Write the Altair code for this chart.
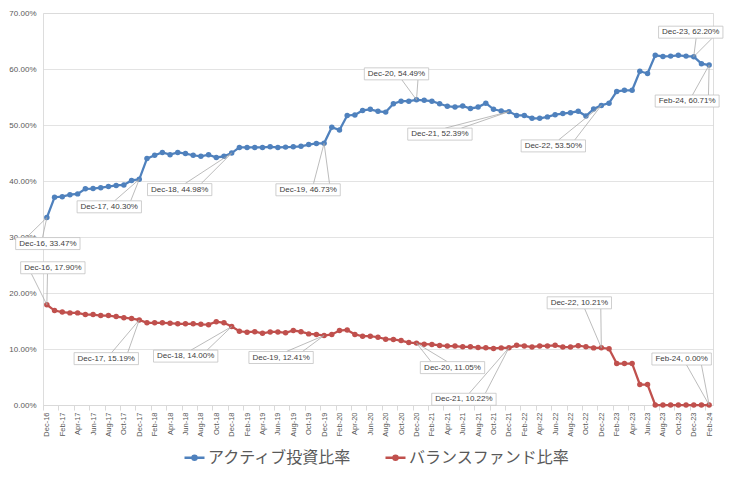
import json
import altair as alt
import pandas as pd

# ---------------- data ----------------
months = pd.date_range("2016-12-01", "2024-02-01", freq="MS").strftime("%b-%y").tolist()
series_names = ["アクティブ投資比率", "バランスファンド比率"]
series_colors = ["#4F81BD", "#C0504D"]

active = [
    33.47, 37.1, 37.2, 37.55, 37.7, 38.6, 38.65, 38.8, 39.0, 39.2, 39.3, 40.1, 40.30,
    44.0, 44.6, 45.1, 44.7, 45.1, 44.9, 44.6, 44.4, 44.7, 44.2, 44.4, 44.98,
    46.0, 46.0, 46.0, 46.0, 46.1, 46.0, 46.05, 46.1, 46.2, 46.5, 46.7, 46.73,
    49.6, 49.1, 51.7, 51.8, 52.6, 52.8, 52.45, 52.3, 53.8, 54.25, 54.25, 54.49,
    54.4, 54.25, 53.8, 53.35, 53.2, 53.4, 52.95, 53.2, 53.9, 52.8, 52.5, 52.39,
    51.7, 51.7, 51.2, 51.2, 51.45, 51.85, 52.05, 52.2, 52.45, 51.6, 52.85, 53.50,
    53.9, 56.0, 56.2, 56.2, 59.6, 59.2, 62.45, 62.25, 62.3, 62.45, 62.3, 62.20,
    60.95, 60.71,
]
balance = [
    17.90, 16.87, 16.6, 16.45, 16.45, 16.15, 16.15, 15.97, 15.97, 15.8, 15.6, 15.44, 15.19,
    14.67, 14.67, 14.67, 14.6, 14.5, 14.5, 14.5, 14.4, 14.35, 14.88, 14.67, 14.00,
    13.17, 13.0, 13.1, 12.8, 13.05, 13.05, 12.9, 13.3, 13.1, 12.7, 12.6, 12.41,
    12.6, 13.3, 13.4, 12.6, 12.28, 12.28, 12.1, 11.75, 11.7, 11.5, 11.15, 11.05,
    10.85, 10.82, 10.64, 10.52, 10.52, 10.4, 10.4, 10.25, 10.22, 10.1, 10.2, 10.22,
    10.65, 10.55, 10.35, 10.55, 10.55, 10.65, 10.35, 10.35, 10.6, 10.4, 10.2, 10.21,
    10.05, 7.4, 7.4, 7.4, 3.66, 3.66, 0, 0, 0, 0, 0, 0,
    0, 0,
]
y_ticks = [0, 0.1, 0.2, 0.3, 0.4, 0.5, 0.6, 0.7]

# labelled points: (series index, month) and callout box offset (style, pixels)
callouts = [
    (0, "Dec-16", 1, 26), (0, "Dec-17", -30, 27.5), (0, "Dec-18", -52, 36.5),
    (0, "Dec-19", -16, 46.5), (0, "Dec-20", -20, -26), (0, "Dec-21", -69, 22.5),
    (0, "Dec-22", -48, 40.5), (0, "Dec-23", -3, -24.5), (0, "Feb-24", -22, 36),
    (1, "Dec-16", 6, -37), (1, "Dec-17", -33, 38.7), (1, "Dec-18", -46, 29.5),
    (1, "Dec-19", -43, 22), (1, "Dec-20", 36, 24.5), (1, "Dec-21", -45, 51.5),
    (1, "Dec-22", -22, -45), (1, "Feb-24", -27.5, -46),
]

# ---------------- layout / style ----------------
W, H = 670, 392
n = len(months)
band_half = W / n / 2
GRAY = "#595959"
FONT = "Liberation Sans"
BOX_H = 12

CW = {"D": .722, "e": .556, "c": .5, "F": .611, "b": .556, "-": .333, ",": .278,
      " ": .278, ".": .278, "%": .889}


def text_w(s, size=8):
    return sum(CW.get(ch, .556) for ch in s) * size


values_by_series = [active, balance]
df = pd.DataFrame({
    "idx": list(range(n)) * 2,
    "month": months * 2,
    "series": [series_names[0]] * n + [series_names[1]] * n,
    "v": [a / 100 for a in active] + [b / 100 for b in balance],
})

x_enc = alt.X(
    "idx:Q",
    scale=alt.Scale(domain=[-0.5, n - 0.5], nice=False, zero=False),
    axis=alt.Axis(
        values=list(range(0, n, 2)),
        labelExpr=json.dumps(months) + "[datum.value]",
        labelAngle=-90, labelFontSize=7.5, labelColor=GRAY, labelFont=FONT,
        labelFlush=False, labelOverlap=False, labelPadding=2,
        tickSize=5, tickColor="#d9d9d9", tickOffset=-band_half, labelOffset=band_half,
        domainColor="#d9d9d9", grid=False, title=None,
    ),
)
y_enc = alt.Y(
    "v:Q",
    scale=alt.Scale(domain=[0, 0.7], nice=False),
    axis=alt.Axis(
        values=y_ticks, format=".2%", labelFontSize=8, labelColor=GRAY, labelFont=FONT,
        ticks=False, domain=False, gridColor="#d9d9d9", gridWidth=0.75,
        labelPadding=7, title=None,
    ),
)

legend_symbol = "M-0.2,0A0.2,0.2,0,1,1,0.2,0A0.2,0.2,0,1,1,-0.2,0Z M-1,0L1,0"
color_enc = alt.Color(
    "series:N",
    scale=alt.Scale(domain=series_names, range=series_colors),
    legend=alt.Legend(
        orient="none", legendX=140, legendY=433, direction="horizontal", title=None,
        labelFontSize=16, labelFont="Noto Sans CJK JP", labelColor=GRAY, labelLimit=400,
        symbolType=legend_symbol, symbolSize=400, symbolStrokeWidth=2.5,
        columnPadding=27, labelOffset=2, padding=0,
    ),
)

lines = alt.Chart(df).mark_line(strokeWidth=2.25).encode(x=x_enc, y=y_enc, color=color_enc)
layers = [lines]
for s, c in zip(series_names, series_colors):
    layers.append(
        alt.Chart(df).transform_filter(alt.datum.series == s)
        .mark_point(filled=True, size=30, color=c, opacity=1)
        .encode(x=x_enc, y=y_enc)
    )

# callouts
ann_rows = []
for k, (si, m, dx, dy) in enumerate(callouts):
    i = months.index(m)
    val = values_by_series[si][i]
    ann_rows.append({"key": k, "idx": i, "v": val / 100, "label": f"{m}, {val:.2f}%"})
df_ann = pd.DataFrame(ann_rows)

wedges, boxes, texts = [], [], []
for k, (si, m, dx, dy) in enumerate(callouts):
    label = ann_rows[k]["label"]
    bw = text_w(label) + 7
    left = dx - bw / 2
    edge_y = dy - BOX_H / 2 if dy > 0 else dy + BOX_H / 2
    if dx > 0:
        bxs = [left + bw * 2 / 12, left + bw * 5 / 12]
    else:
        bxs = [left + bw * 7 / 12, left + bw * 10 / 12]
    base = alt.Chart(df_ann).transform_filter(alt.datum.key == k)
    for bx in bxs:
        wedges.append(
            base.mark_rule(color="#a6a6a6", strokeWidth=0.75, x2Offset=bx, y2Offset=edge_y)
            .encode(x=x_enc, x2=alt.X2("idx"), y=y_enc, y2=alt.Y2("v"))
        )
    boxes.append(
        base.mark_rect(fill="white", stroke="#bfbfbf", strokeWidth=0.75,
                       xOffset=left, x2Offset=left + bw,
                       yOffset=dy - BOX_H / 2, y2Offset=dy + BOX_H / 2)
        .encode(x=x_enc, x2=alt.X2("idx"), y=y_enc, y2=alt.Y2("v"))
    )
    texts.append(
        base.mark_text(dx=dx, dy=dy, fontSize=8, font=FONT, color="#404040",
                       align="center", baseline="middle")
        .encode(x=x_enc, y=y_enc, text="label:N")
    )

chart = (
    alt.layer(*(layers + wedges + boxes + texts))
    .properties(width=W, height=H, padding={"left": 0, "top": 1, "right": 0, "bottom": 4})
    .configure_view(strokeWidth=0, stroke="transparent")
    .configure(background="white")
)

chart.save("out.html", embed_options={"renderer": "svg", "actions": False})
